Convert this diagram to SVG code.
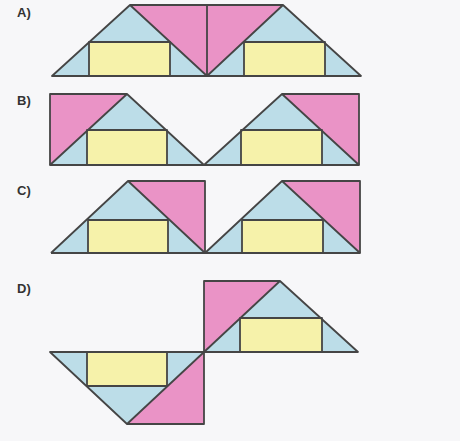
<svg xmlns="http://www.w3.org/2000/svg" width="460" height="441" viewBox="0 0 460 441">
<style>
.b{fill:#bcdde8}
.p{fill:#ea93c6}
.y{fill:#f6f2aa}
.s{stroke:#454545;stroke-width:1.8;stroke-linejoin:round;fill:none}
.lbl{font-family:"Liberation Sans",Arial,sans-serif;font-weight:bold;font-size:13px;fill:#333}
</style>
<rect width="460" height="441" fill="#f7f7f9"/>
<g id="labels">
<text class="lbl" x="17" y="17">A)</text>
<text class="lbl" x="17" y="105">B)</text>
<text class="lbl" x="17" y="195">C)</text>
<text class="lbl" x="17" y="293">D)</text>
</g>
<g id="optionA">
<polygon class="b" points="52,76 130,5 207,76"/>
<polygon class="b" points="207,76 283,5 361,76"/>
<polygon class="p" points="130,5 283,5 207,76"/>
<rect class="y" x="89" y="42" width="81" height="34"/>
<rect class="y" x="244" y="42" width="81" height="34"/>
<g class="s">
<polygon points="52,76 130,5 283,5 361,76"/>
<polyline points="130,5 207,76 283,5"/>
<line x1="207" y1="5" x2="207" y2="76"/>
<rect x="89" y="42" width="81" height="34"/>
<rect x="244" y="42" width="81" height="34"/>
</g>
</g>
<g id="optionB">
<polygon class="p" points="50,94 127,94 50,165"/>
<polygon class="p" points="282,94 359,94 359,165"/>
<polygon class="b" points="50,165 127,94 204,165"/>
<polygon class="b" points="204,165 282,94 359,165"/>
<rect class="y" x="87" y="130" width="80" height="35"/>
<rect class="y" x="241" y="130" width="81" height="35"/>
<g class="s">
<polyline points="127,94 50,94 50,165 359,165 359,94 282,94"/>
<polyline points="50,165 127,94 204,165 282,94 359,165"/>
<rect x="87" y="130" width="80" height="35"/>
<rect x="241" y="130" width="81" height="35"/>
</g>
</g>
<g id="optionC">
<polygon class="b" points="51,253 128,181 205,253"/>
<polygon class="b" points="205,253 282,181 360,253"/>
<polygon class="p" points="128,181 205,181 205,253"/>
<polygon class="p" points="282,181 360,181 360,253"/>
<rect class="y" x="88" y="220" width="80" height="33"/>
<rect class="y" x="242" y="220" width="81" height="33"/>
<g class="s">
<polyline points="51,253 360,253 360,181 282,181"/>
<polyline points="51,253 128,181 205,253 282,181 360,253"/>
<polyline points="128,181 205,181 205,253"/>
<rect x="88" y="220" width="80" height="33"/>
<rect x="242" y="220" width="81" height="33"/>
</g>
</g>
<g id="optionD">
<polygon class="p" points="204,281 280,281 204,352"/>
<polygon class="b" points="204,352 280,281 358,352"/>
<polygon class="b" points="50,352 204,352 127,424"/>
<polygon class="p" points="204,352 204,424 127,424"/>
<rect class="y" x="240" y="318" width="82" height="34"/>
<rect class="y" x="87" y="352" width="80" height="34"/>
<g class="s">
<polyline points="204,352 204,281 280,281 358,352 50,352 127,424 204,424 204,352"/>
<line x1="127" y1="424" x2="280" y2="281"/>
<rect x="240" y="318" width="82" height="34"/>
<rect x="87" y="352" width="80" height="34"/>
</g>
</g>
</svg>
